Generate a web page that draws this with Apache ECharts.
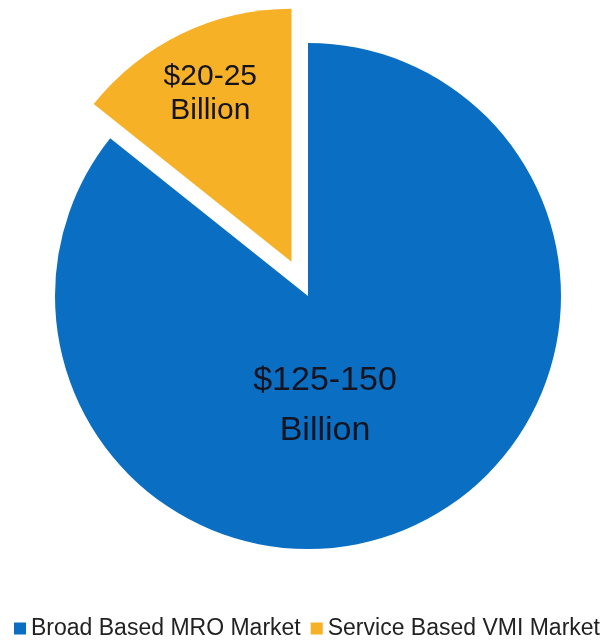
<!DOCTYPE html>
<html>
<head>
<meta charset="utf-8">
<script src="https://cdn.jsdelivr.net/npm/echarts@6/dist/echarts.min.js"></script>
<style>
  html, body { margin: 0; padding: 0; background: #fff; }
  #chart { width: 614px; height: 640px; }
</style>
</head>
<body>
<div id="chart"></div>
<script>
// Market size segments (billions of USD, upper bound of each range)
const segments = ['Broad Based MRO Market', 'Service Based VMI Market'];
const values = [150, 25];
const rangeLabels = ['$125-150\nBillion', '$20-25\nBillion'];
const colors = ['#0A6FC2', '#F6B126'];

const chart = echarts.init(document.getElementById('chart'), null, { renderer: 'canvas' });

const cx = 308, cy = 296, radius = 253;

chart.setOption({
  animation: false,
  textStyle: { fontFamily: 'Liberation Sans, Arial, sans-serif' },
  legend: {
    top: 612,
    left: 'center',
    itemWidth: 12,
    itemHeight: 12,
    itemGap: 10,
    icon: 'rect',
    textStyle: { fontSize: 23, color: '#222' },
    data: segments
  },
  series: [{
    type: 'pie',
    center: [cx, cy],
    radius: [0, radius],
    startAngle: 90,
    clockwise: true,
    selectedMode: 'single',
    selectedOffset: 38,
    avoidLabelOverlap: false,
    label: {
      show: true,
      position: 'inside',
      // the pulled slice's text sits nearer the rim: pad it with blank lines below
      formatter: p => p.dataIndex === 1
        ? rangeLabels[p.dataIndex] + '\n \n \n '
        : rangeLabels[p.dataIndex],
      color: '#141420',
      align: 'center'
    },
    labelLayout: function (p) {
      if (p.dataIndex === 0) return { x: 325, y: 406 };
      return {};
    },
    labelLine: { show: false },
    emphasis: { disabled: true },
    data: segments.map((name, i) => ({
      name: name,
      value: values[i],
      selected: i === 1,
      itemStyle: { color: colors[i] },
      label: i === 0
        ? { fontSize: 34, lineHeight: 50 }
        : { fontSize: 30, lineHeight: 34, padding: [0, 50, 0, 0] }
    }))
  }]
});
</script>
</body>
</html>
